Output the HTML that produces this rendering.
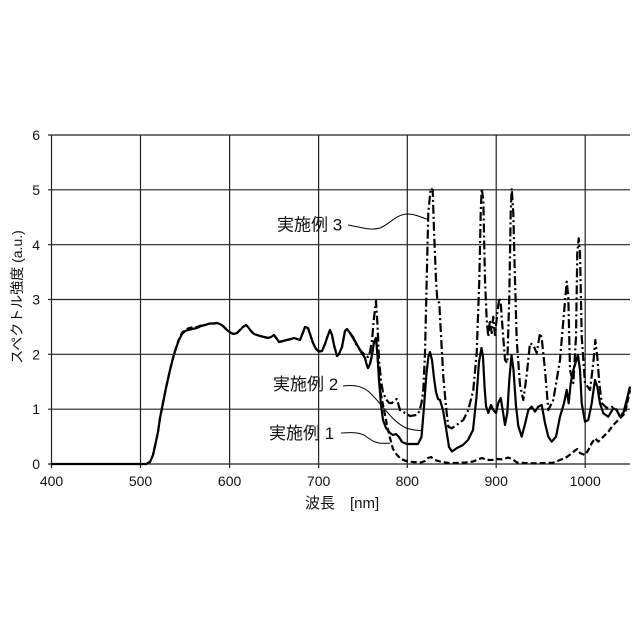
<!DOCTYPE html>
<html><head><meta charset="utf-8"><style>
html,body{margin:0;padding:0;background:#fff;}
svg{display:block;}
text{font-family:"Liberation Sans","Noto Sans CJK JP",sans-serif;fill:#111;}
</style></head><body>
<svg width="640" height="640" viewBox="0 0 640 640" xmlns="http://www.w3.org/2000/svg">
<rect width="640" height="640" fill="#fff"/>
<g stroke="#222" stroke-width="1.2" fill="none">
<line x1="48" y1="135" x2="630" y2="135"/>
<line x1="48" y1="189.8" x2="630" y2="189.8"/>
<line x1="48" y1="244.7" x2="630" y2="244.7"/>
<line x1="48" y1="299.5" x2="630" y2="299.5"/>
<line x1="48" y1="354.3" x2="630" y2="354.3"/>
<line x1="48" y1="409.2" x2="630" y2="409.2"/>
<line x1="48" y1="464" x2="630" y2="464"/>
<line x1="51.5" y1="135" x2="51.5" y2="468"/>
<line x1="140.5" y1="135" x2="140.5" y2="468"/>
<line x1="229.6" y1="135" x2="229.6" y2="468"/>
<line x1="318.6" y1="135" x2="318.6" y2="468"/>
<line x1="407.3" y1="135" x2="407.3" y2="468"/>
<line x1="496.2" y1="135" x2="496.2" y2="468"/>
<line x1="585.2" y1="135" x2="585.2" y2="468"/>
</g>
<g font-size="14" text-anchor="end">
<text x="40" y="140">6</text>
<text x="40" y="195">5</text>
<text x="40" y="250">4</text>
<text x="40" y="304.5">3</text>
<text x="40" y="359.5">2</text>
<text x="40" y="414">1</text>
<text x="40" y="469">0</text>
</g>
<g font-size="14" text-anchor="middle">
<text x="51.5" y="486">400</text>
<text x="140.5" y="486">500</text>
<text x="229.6" y="486">600</text>
<text x="318.6" y="486">700</text>
<text x="407.3" y="486">800</text>
<text x="496.2" y="486">900</text>
<text x="585.2" y="486">1000</text>
</g>
<text x="305" y="508" font-size="15">波長　[nm]</text>
<text transform="translate(22,297) rotate(-90)" font-size="14" text-anchor="middle">スペクトル強度  (a.u.)</text>

<g fill="none" stroke="#000" stroke-linejoin="round" stroke-linecap="butt">
<polyline stroke-width="2.2" points="51.5,464 146,464 150,462 153,455 155,446 158,432 160,418 163,403 166,388 170,370 173,358 176,348 179,340 182,334 185,331 188,330 192,329 197,328 201,326 205,325 210,323.5 214,323.5 217,323 220,324 223,326 227,330 231,333 234,334 237,333 240,330 243,327 246,325 248,327 251,331 254,334 257,335 260,336 264,337 268,338 271,337 274,335 277,339 279,342 283,341 287,340 291,339 294,338 297,339 300,340 302,335 305,327 308,328 310,334 313,343 316,349 319,351.5 322,351 325,344 328,335 330,330 332,335 334,345 337,356 339,354 342,347 345,331 347,329 350,333 353,337 356,343 360,350 363,355 365,358 366.5,364 368,368 370,364 372,355 374,342 376,338 377.5,355 379,380 381,405 383,420 386,428 390,433 393,435 396,434 399,437 402,442 407,444 418,444 421.5,437 424,407 426.5,373 428.5,356 430,352 432,360 434,378 436,392 438,399 440,400 443,410 446,428 449,447 452,451.5 457,448 463,445 468,440 473,430 476.5,397 479,362 481.5,348 483,357 484.5,386 486,406 488.3,413 491,405 493.3,410 496,413 498.3,403 500.7,398 502.7,410 505,425 507.3,413 509.3,380 511.5,355 513.5,370 516,406 518.3,426 521.7,436.7 525,424 528.3,410 531.7,406.7 535,411.7 538.3,406.7 541.7,405 545,423 548.3,436.7 551.7,441.7 556,436.7 560,416.7 564,403.3 566.7,390 568.7,403.3 570.7,383.3 573.3,370 578,355 580,370 581.7,403.3 585,421.7 588.3,420 591.7,403.3 595,380 597.3,386.7 600,403.3 603.3,413.3 608.3,416.7 613.3,408.3 616.7,410 620,416.7 623.3,413.3 626.7,400 630,386.7"/>
<polyline stroke-width="2.2" stroke-dasharray="6 3" points="146,464 150,462 153,455 155,446 158,432 160,418 163,403 166,388 170,370 173,358 176,348 179,339 182,333 185,330 188,328.5 192,327.5 197,327 201,325.5 205,325 210,323.5 214,323.5 217,323 220,324 223,326 227,330 231,333 234,334 237,333 240,330 243,327 246,325 248,327 251,331 254,334 257,335 260,336 264,337 268,338 271,337 274,335 277,339 279,342 283,341 287,340 291,339 294,338 297,339 300,340 302,335 305,327 308,328 310,334 313,343 316,349 319,351.5 322,351 325,344 328,335 330,330 332,335 334,345 337,356 339,354 342,347 345,331 347,329 350,333 353,337 356,343 360,350 363,355 365,358 366.5,364 368,368 370,364 372,355 374,342 376,338 377.5,355 379,378 381,395 384,410 387,425 390,438 393,449 397,455 401,459 406,461 413,462 421,462.5 425,461 428,458 431,457 435,460 440,461.5 448,463 457,463 465,462.5 473,461.5 478,459.5 482,458 487,460 492,460 497,459 503,459.5 508,457.5 512,459 517,462.5 525,463 535,463.3 545,463 553,462.7 560,460 566.7,457 571,454 575,450.5 577.3,449 580,453 585,455 588.3,450 591.7,443.3 595,438.3 598.3,441.7 603.3,436.7 608.3,431.7 613.3,425 618.3,420 621.7,416.7 625,413.3 630,390"/>
<polyline stroke-width="2.2" stroke-dasharray="9 3 2 3" points="350,333 353,338 356,344 360,350 363,353 366,356 368,357 370,352 372,340 374,318 376,301 377.5,325 379,360 381,380 383,393 386.7,400 389,403 392,403 394,401 396.7,399 398,403 400,410 405,413 410,416 416.7,415 419.5,411 421.7,402 423.3,390 425,353 426.7,280 428.3,213 430.7,188.3 432.7,190 434,230 436,280 437.3,300 439.3,303 440.7,330 443.3,376.7 446,406.7 448.3,426.7 451.7,428.3 456.7,425 463.3,420 468.3,410 473.3,390 476.7,353 479.3,280 480.7,213 481.7,188.3 483.3,200 485,280 486.7,320 488.3,336.7 490,320 491.7,333 493.3,316.7 495,335 497.3,313 499.3,298 500.7,303 502.7,330 505,360 507.3,363 509.3,296.7 510.7,213 511.7,188.3 513.3,213 515,280 516.7,340 520,385 523.3,400 526.7,375 530,343.3 533.3,345 536.7,353 540,333.3 541.7,338 545,370 548.3,410 553.3,400 560,360 564,313 566.7,281.7 568.3,296.7 570,370 573.3,383 576,336.7 577.3,253 578.7,238.3 580,253 581.7,336.7 585,383 590,390 593.3,363 595.3,340 597.3,356.7 599.3,383 601.7,403 606.7,408 613.3,406.7 616.7,410 620,416.7 625,410 630,386.7"/>
</g>
<g fill="none" stroke="#000" stroke-width="1">
<path d="M348,225 C360,227 370,231 380,228 C390,224 396,214 408,214 C416,214 422,218 427,219"/>
<path d="M343,386 C352,385 360,385 368,391 C380,401 390,420 406,428 C412,430 417,430.5 422,430.5"/>
<path d="M341,433 C350,432.5 358,432 364,435 C370,439 374,443 382,443.3 L390,443.3"/>
</g>
<g font-size="17">
<text x="277" y="230.5">実施例 3</text>
<text x="273" y="390">実施例 2</text>
<text x="269" y="439">実施例 1</text>
</g>
</svg>
</body></html>
